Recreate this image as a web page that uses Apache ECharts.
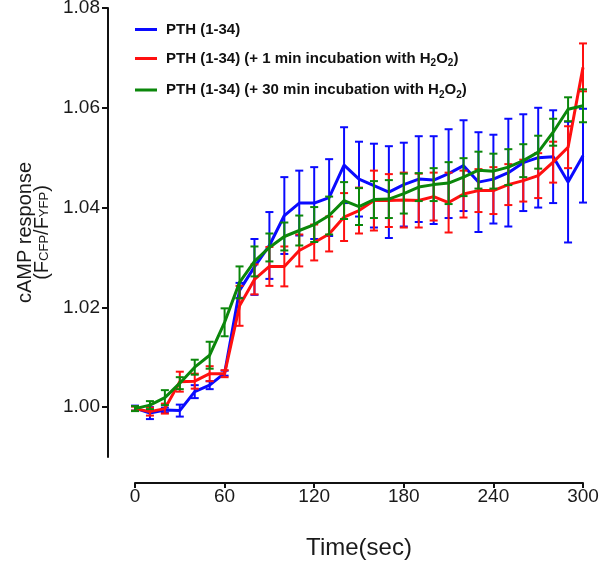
<!DOCTYPE html>
<html>
<head>
<meta charset="utf-8">
<script src="https://cdn.jsdelivr.net/npm/echarts@6/dist/echarts.min.js"></script>
<style>
html,body{margin:0;padding:0;background:#fff;}
#chart{width:600px;height:561px;}
</style>
</head>
<body>
<div id="chart"></div>
<script>
const times = [0,10,20,30,40,50,60,70,80,90,100,110,120,130,140,150,160,170,180,190,200,210,220,230,240,250,260,270,280,290,300];
const xTicks = [0,60,120,180,240,300];
const yTicks = [1.00,1.02,1.04,1.06,1.08];

const seriesNames = ['PTH (1-34)', 'PTH (1-34) (+ 1 min incubation with H2O2)', 'PTH (1-34) (+ 30 min incubation with H2O2)'];

const blueMean = [0.9998,0.9988,0.9994,0.9993,1.0031,1.0044,1.0068,1.0234,1.0281,1.0324,1.0384,1.0409,1.0409,1.0420,1.0485,1.0457,1.0444,1.0431,1.0446,1.0457,1.0455,1.0468,1.0484,1.0451,1.0457,1.0470,1.0490,1.0500,1.0502,1.0451,1.0504];
const blueErr  = [0.0005,0.0012,0.0005,0.0012,0.0013,0.0008,0.0005,0.0015,0.0056,0.0067,0.0077,0.0065,0.0072,0.0077,0.0076,0.0075,0.0084,0.0092,0.0084,0.0086,0.0088,0.0089,0.0091,0.0100,0.0089,0.0108,0.0097,0.0100,0.0093,0.0121,0.0094];

const redMean = [0.9997,0.9991,0.9997,1.0051,1.0052,1.0067,1.0067,1.0203,1.0256,1.0282,1.0282,1.0314,1.0330,1.0347,1.0381,1.0394,1.0414,1.0414,1.0415,1.0414,1.0422,1.0410,1.0427,1.0434,1.0434,1.0446,1.0454,1.0464,1.0491,1.0521,1.0681];
const redErr  = [0.0004,0.0008,0.0010,0.0020,0.0015,0.0015,0.0007,0.0040,0.0030,0.0039,0.0040,0.0032,0.0036,0.0035,0.0048,0.0046,0.0060,0.0053,0.0055,0.0054,0.0048,0.0060,0.0047,0.0043,0.0047,0.0041,0.0042,0.0045,0.0041,0.0042,0.0048];

const greenMean = [0.9997,1.0004,1.0019,1.0048,1.0080,1.0104,1.0170,1.0250,1.0292,1.0320,1.0342,1.0354,1.0366,1.0384,1.0414,1.0402,1.0416,1.0417,1.0428,1.0441,1.0446,1.0449,1.0461,1.0475,1.0473,1.0481,1.0494,1.0511,1.0551,1.0597,1.0604];
const greenErr  = [0.0005,0.0008,0.0015,0.0012,0.0015,0.0027,0.0028,0.0032,0.0030,0.0028,0.0028,0.0030,0.0035,0.0038,0.0037,0.0037,0.0037,0.0038,0.0040,0.0028,0.0033,0.0042,0.0038,0.0037,0.0035,0.0036,0.0033,0.0033,0.0027,0.0024,0.0033];

const colors = ['#0a0aff', '#ff1010', '#0b870b'];
const FONT = 'Liberation Sans, Arial, sans-serif';

function errSeries(name, color, means, errs, z) {
  return {
    name: name,
    type: 'custom',
    z: z,
    silent: true,
    encode: { x: 0, y: [1, 2] },
    data: times.map((t, i) => [t, means[i] - errs[i], means[i] + errs[i]]),
    renderItem: function (params, api) {
      const lo = api.coord([api.value(0), api.value(1)]);
      const hi = api.coord([api.value(0), api.value(2)]);
      const w = 4;
      const st = { stroke: color, lineWidth: 2 };
      return {
        type: 'group',
        children: [
          { type: 'line', shape: { x1: lo[0], y1: lo[1], x2: hi[0], y2: hi[1] }, style: st },
          { type: 'line', shape: { x1: lo[0] - w, y1: lo[1], x2: lo[0] + w, y2: lo[1] }, style: st },
          { type: 'line', shape: { x1: hi[0] - w, y1: hi[1], x2: hi[0] + w, y2: hi[1] }, style: st }
        ]
      };
    }
  };
}

function lineSeries(name, color, means, z) {
  return {
    name: name,
    type: 'line',
    z: z,
    showSymbol: false,
    symbol: 'none',
    data: times.map((t, i) => [t, means[i]]),
    lineStyle: { color: color, width: 3 },
    itemStyle: { color: color }
  };
}

const legendRich = {
  sp: { width: 4 },
  t: { fontSize: 15, fontWeight: 'bold', fontFamily: FONT, color: '#111', lineHeight: 20 },
  s: { fontSize: 10, fontWeight: 'bold', fontFamily: FONT, color: '#111', verticalAlign: 'bottom', lineHeight: 10 }
};

const legendLabels = {};
legendLabels[seriesNames[0]] = '{sp| }{t|PTH (1-34)}';
legendLabels[seriesNames[1]] = '{sp| }{t|PTH (1-34) (+ 1 min incubation with H}{s|2}{t|O}{s|2}{t|)}';
legendLabels[seriesNames[2]] = '{sp| }{t|PTH (1-34) (+ 30 min incubation with H}{s|2}{t|O}{s|2}{t|)}';

const chart = echarts.init(document.getElementById('chart'), null, { renderer: 'canvas' });
chart.setOption({
  animation: false,
  backgroundColor: '#fff',
  grid: { left: 135, right: 17, top: 8, bottom: 104, containLabel: false, outerBoundsMode: 'none' },
  legend: {
    data: seriesNames,
    orient: 'vertical',
    left: 130,
    top: 17,
    itemGap: 14,
    icon: 'rect',
    itemWidth: 22,
    itemHeight: 3,
    selectedMode: false,
    formatter: function (n) { return legendLabels[n]; },
    textStyle: { rich: legendRich }
  },
  xAxis: {
    type: 'value',
    min: 0, max: 300, interval: 60,
    offset: 26,
    name: 'Time(sec)',
    nameLocation: 'middle',
    nameGap: 53,
    nameTextStyle: { fontSize: 24, fontFamily: FONT, color: '#1a1a1a' },
    axisLine: { show: true, onZero: false, lineStyle: { color: '#111', width: 2 } },
    axisTick: { show: true, length: 5, lineStyle: { color: '#111', width: 2 } },
    axisLabel: { fontSize: 19, fontFamily: FONT, color: '#1a1a1a', margin: 4,
      customValues: xTicks },
    splitLine: { show: false }
  },
  yAxis: {
    type: 'value',
    min: 0.99, max: 1.08,
    offset: 27,
    name: '{a|cAMP response}\n{a|(F}{s|CFP}{a|/F}{s|YFP}{a|)}',
    nameLocation: 'middle',
    nameGap: 54,
    nameTextStyle: {
      rich: {
        a: { fontSize: 20, fontFamily: FONT, color: '#1a1a1a', lineHeight: 17 },
        s: { fontSize: 13, fontFamily: FONT, color: '#1a1a1a', verticalAlign: 'bottom', lineHeight: 12 }
      }
    },
    axisLine: { show: true, onZero: false, lineStyle: { color: '#111', width: 2 } },
    axisTick: { show: true, length: 6, lineStyle: { color: '#111', width: 2 }, customValues: yTicks },
    axisLabel: { fontSize: 19, fontFamily: FONT, color: '#1a1a1a', margin: 8,
      customValues: yTicks,
      formatter: function (v) { return v.toFixed(2); } },
    splitLine: { show: false }
  },
  series: [
    errSeries('blueErr', colors[0], blueMean, blueErr, 2),
    lineSeries(seriesNames[0], colors[0], blueMean, 3),
    errSeries('redErr', colors[1], redMean, redErr, 4),
    lineSeries(seriesNames[1], colors[1], redMean, 5),
    errSeries('greenErr', colors[2], greenMean, greenErr, 6),
    lineSeries(seriesNames[2], colors[2], greenMean, 7)
  ]
});
</script>
</body>
</html>
